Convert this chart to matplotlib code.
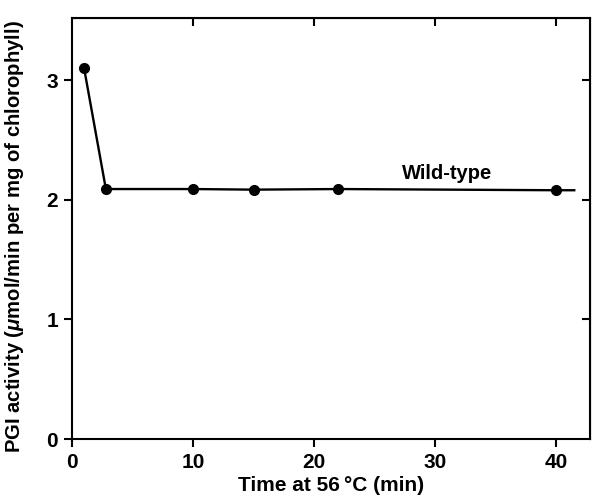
import matplotlib
matplotlib.use("Agg")
import matplotlib.pyplot as plt

# --- data ---
time_min = [1, 2.8, 10, 15, 22, 40]
pgi_activity = [3.10, 2.09, 2.09, 2.085, 2.09, 2.08]
line_end_x = 41.5          # the line runs a little past the last point
series_label = "Wild-type"
x_ticks = [0, 10, 20, 30, 40]
y_ticks = [0, 1, 2, 3]

plt.rcParams['font.family'] = ['Liberation Sans', 'DejaVu Sans']
plt.rcParams['mathtext.fontset'] = 'custom'
plt.rcParams['mathtext.it'] = 'Liberation Sans:italic:bold'

fig = plt.figure(figsize=(5.92, 5.03), dpi=100)
ax = fig.add_axes([0.1216, 0.1272, 0.8750, 0.8370])

ax.plot(time_min + [line_end_x], pgi_activity + [pgi_activity[-1]],
        color='black', lw=1.7, zorder=2)
ax.plot(time_min, pgi_activity, 'o', color='black', ms=7, zorder=3)

ax.text(31, 2.14, series_label, ha='center', va='bottom',
        fontsize=14.5, fontweight='bold')

ax.set_xlim(0, 42.8)
ax.set_ylim(0, 3.52)
ax.set_xticks(x_ticks)
ax.set_yticks(y_ticks)

for s in ax.spines.values():
    s.set_linewidth(1.5)
ax.tick_params(direction='out', length=6, width=1.5, labelsize=15, pad=4)
for lab in ax.get_xticklabels() + ax.get_yticklabels():
    lab.set_fontweight('bold')

# inward ticks on the top and right frames
top = ax.secondary_xaxis('top')
top.set_xticks(x_ticks[1:])
top.tick_params(direction='in', length=6, width=1.5, labeltop=False)
right = ax.secondary_yaxis('right')
right.set_yticks(y_ticks[1:])
right.tick_params(direction='in', length=6, width=1.5, labelright=False)

ax.set_xlabel("Time at 56\u2009\u00b0C (min)", fontsize=15, fontweight='bold', labelpad=3)
ax.set_ylabel(r"PGI activity ($\mu$mol/min per mg of chlorophyll)",
              fontsize=14.6, fontweight='bold')
ax.yaxis.set_label_coords(-0.088, 0.48)

fig.savefig("out.png", dpi=100)
